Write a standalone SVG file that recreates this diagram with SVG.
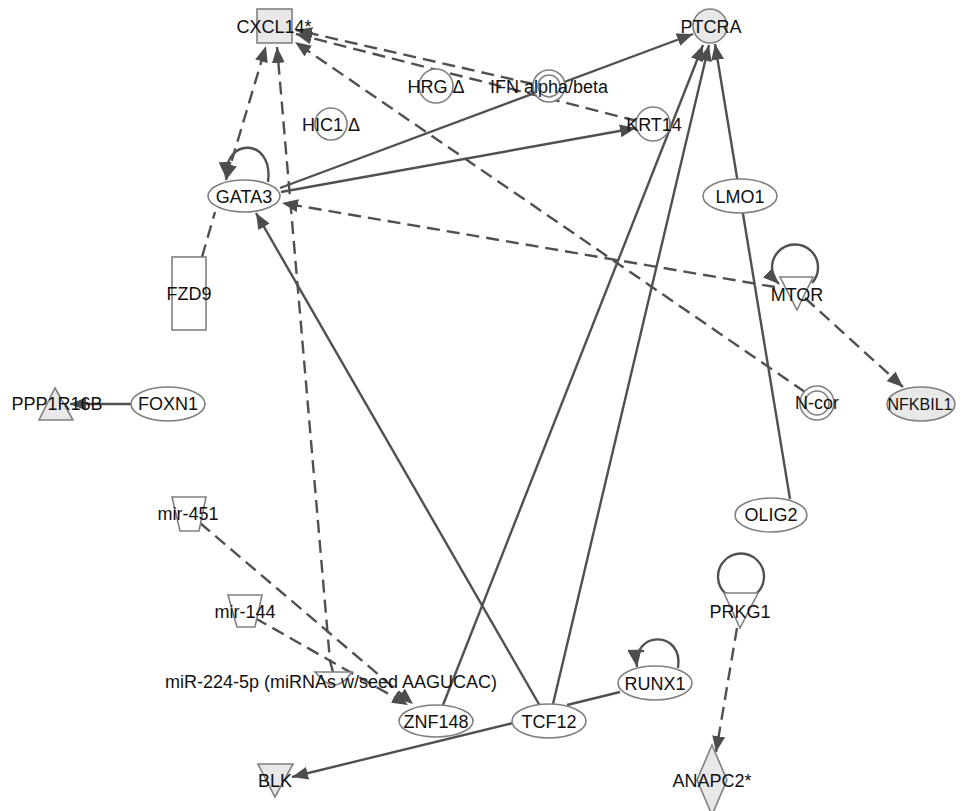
<svg xmlns="http://www.w3.org/2000/svg" width="962" height="811" viewBox="0 0 962 811">
<defs>
<marker id="ah" markerUnits="userSpaceOnUse" markerWidth="16" markerHeight="13" refX="16" refY="6.5" orient="auto-start-reverse" viewBox="0 0 16 13">
<path d="M0,0 L16,6.5 L0,13 z" fill="#4d4d4d"/>
</marker>
<style>
.e{fill:none;stroke:#505050;stroke-width:2.4}
.d{stroke-dasharray:13 7}
.a{marker-end:url(#ah)}
.n{fill:#fff;stroke:#808080;stroke-width:1.6}
.g{fill:#e8e8e8;stroke:#808080;stroke-width:1.6}
text{font-family:"Liberation Sans",Arial,sans-serif;font-size:18px;fill:#111;text-anchor:middle}
</style>
</defs>
<rect width="962" height="811" fill="#fff"/>
<g id="connectors">
<path class="e d a" d="M226,180 L266,46" marker-start="url(#ah)"/>
<path class="e a" d="M268,182 C274,138 224,136 226,178"/>
<path class="e d a" d="M333,672 L330,661 L277,47"/>
<path class="e d a" d="M533,84 L296,30"/>
<path class="e d a" d="M637,121 L296,34"/>
<path class="e d a" d="M805,392 L295,42"/>
<path class="e d a" d="M775,287 L282,203"/>
<path class="e d a" d="M805,298 L903,387"/>
<path class="e a" d="M280,188 L693,34"/>
<path class="e a" d="M281,192 L636,128"/>
<path class="e a" d="M443,705 L703,45"/>
<path class="e a" d="M553,704 L709,45"/>
<path class="e a" d="M790,499 L715,44"/>
<path class="e a" d="M540,706 L256,213"/>
<path class="e a" d="M513,723 L292,777"/>
<path class="e" d="M567,705 L620,692"/>
<path class="e a" d="M678,668 C684,630 632,630 637,667"/>
<path class="e" d="M628,651 L644,651"/>
<path class="e d a" d="M200,523 L413,704"/>
<path class="e d a" d="M255,618 L408,705"/>
<path class="e a" d="M131,404 L70,404"/>
<path class="e d" d="M202,257 L215,212"/>
<path class="e d a" d="M737,628 L716,752"/>
<path class="e a" d="M812,283 A23,23 0 1 0 779,284"/>
<path class="e" d="M726,594 A23,23 0 1 1 756,594"/>
</g>
<g id="CXCL14"><rect class="g" x="257" y="9" width="35" height="34"/><text x="274" y="33">CXCL14*</text></g>
<g id="PTCRA"><circle class="g" cx="710" cy="26" r="17"/><text x="711" y="33">PTCRA</text></g>
<g id="HRG"><circle class="n" cx="436" cy="86" r="17"/><text x="436" y="93">HRG Δ</text></g>
<g id="IFN"><circle class="n" cx="549" cy="86" r="16"/><circle class="n" cx="549" cy="86" r="11"/><text x="549" y="93">IFN alpha/beta</text></g>
<g id="HIC1"><circle class="n" cx="331" cy="124" r="16"/><text x="331" y="131">HIC1 Δ</text></g>
<g id="KRT14"><circle class="n" cx="653" cy="124" r="17"/><text x="654" y="131">KRT14</text></g>
<g id="GATA3"><ellipse class="n" cx="244" cy="196" rx="36" ry="16"/><text x="244" y="203">GATA3</text></g>
<g id="LMO1"><ellipse class="n" cx="740" cy="196" rx="37" ry="17"/><text x="740" y="203">LMO1</text></g>
<g id="FZD9"><rect class="n" x="172" y="257" width="34" height="73"/><text x="189" y="300">FZD9</text></g>
<g id="MTOR"><path class="n" d="M780,277 L813,277 L797,310 z"/><text x="797" y="301">MTOR</text></g>
<g id="PPP1R16B"><path class="g" d="M55,388 L73,420 L39,420 z"/><text x="57" y="410">PPP1R16B</text></g>
<g id="FOXN1"><ellipse class="n" cx="168" cy="404" rx="37" ry="17"/><text x="168" y="410">FOXN1</text></g>
<g id="Ncor"><circle class="n" cx="817" cy="403" r="17"/><circle class="n" cx="817" cy="403" r="12"/><text x="817" y="409">N-cor</text></g>
<g id="NFKBIL1"><ellipse class="g" cx="921" cy="404" rx="34" ry="17"/><text x="920" y="410" style="font-size:16px">NFKBIL1</text></g>
<g id="OLIG2"><ellipse class="n" cx="771" cy="515" rx="36" ry="17"/><text x="771" y="521">OLIG2</text></g>
<g id="mir451"><path class="n" d="M172,497 L206,497 L199,531 L180,531 z"/><text x="188" y="520">mir-451</text></g>
<g id="mir144"><path class="n" d="M228,595 L262,595 L255,627 L237,627 z"/><text x="245" y="618">mir-144</text></g>
<g id="miR224"><path class="n" d="M315,672 L352,672 L348,677 Q334,693 320,677 z"/><text x="331" y="688">miR-224-5p (miRNAs w/seed AAGUCAC)</text></g>
<g id="ZNF148"><ellipse class="n" cx="436" cy="721" rx="37" ry="16"/><text x="436" y="728">ZNF148</text></g>
<g id="TCF12"><ellipse class="n" cx="549" cy="721" rx="37" ry="17"/><text x="549" y="728">TCF12</text></g>
<g id="RUNX1"><ellipse class="n" cx="655" cy="683" rx="37" ry="17"/><text x="655" y="690">RUNX1</text></g>
<g id="BLK"><path class="g" d="M258,764 L293,764 L275,797 z"/><text x="275" y="787">BLK</text></g>
<g id="PRKG1"><path class="n" d="M724,593 L758,593 L740,628 z"/><text x="740" y="618">PRKG1</text></g>
<g id="ANAPC2"><path class="g" d="M712,745 L727,780 L712,815 L697,780 z"/><text x="712" y="787">ANAPC2*</text></g>
</svg>
